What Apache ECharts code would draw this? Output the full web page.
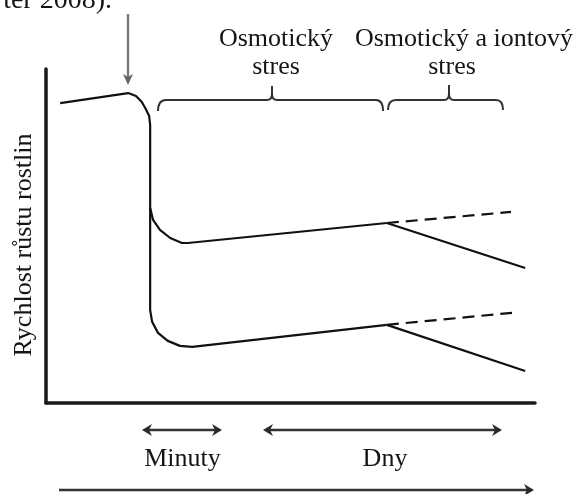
<!DOCTYPE html>
<html>
<head>
<meta charset="utf-8">
<script src="https://cdn.jsdelivr.net/npm/echarts@6/dist/echarts.min.js"></script>
<style>
html,body{margin:0;padding:0;background:#fff;}
#chart{width:577px;height:494px;}
</style>
</head>
<body>
<div id="chart"></div>
<script>
// ---- data (time, growth rate) ----
const beforeStress = [[2.9,89.8],[16.8,92.8],[18.4,91.9],[19.6,90.1],[20.4,88.0],[21.1,85.9],[21.3,83.2],[21.3,58.4]];
const upperOsmotic = [[21.3,58.4],[21.9,54.8],[23.3,51.8],[25.4,49.4],[27.8,47.9],[29.0,47.9],[69.7,53.9]];
const upperOsmoticOnly = [[69.7,53.9],[95.1,57.2]];
const upperIonic = [[69.7,53.9],[98.0,40.4]];
const lowerOsmotic = [[21.3,58.4],[21.3,27.8],[21.7,24.3],[22.9,21.0],[24.9,18.6],[27.4,17.1],[29.9,16.8],[69.7,23.4]];
const lowerOsmoticOnly = [[69.7,23.4],[95.3,27.0]];
const lowerIonic = [[69.7,23.4],[98.0,9.6]];

const yAxisTitle = 'Rychlost růstu rostlin';
const phaseLabels = ['Osmotický', 'stres', 'Osmotický a iontový', 'stres'];
const timeLabels = ['Minuty', 'Dny'];
const captionTail = 'ter 2008).';

const chart = echarts.init(document.getElementById('chart'), null, {renderer:'canvas'});
const FONT = '"Liberation Serif", "Times New Roman", serif';
const ink = '#111';

function lineSeries(data, dashed){
  return {
    type:'line', data:data, showSymbol:false, clip:false, silent:true,
    lineStyle:{color:ink, width:2.2, type: dashed ? [12,7] : 'solid', cap:'butt', join:'round'}
  };
}

function txt(text, x, y, size, align, extra){
  return Object.assign({
    type:'text', x:x, y:y, silent:true,
    style:{text:text, font: size+'px '+FONT, fill:'#151515', textAlign:align||'center', textVerticalAlign:'middle'}
  }, extra||{});
}
function seg(x1,y1,x2,y2,color,w){
  return {type:'line', silent:true, shape:{x1:x1,y1:y1,x2:x2,y2:y2}, style:{stroke:color||'#333', lineWidth:w||2}};
}
function curl(x1,y1,cx,cy,x2,y2){
  return {type:'bezierCurve', silent:true, shape:{x1:x1,y1:y1,x2:x2,y2:y2,cpx1:cx,cpy1:cy}, style:{stroke:'#333', lineWidth:2, fill:null}};
}
function brace(xl, xm, xr, yLine, yEnd, yTop){
  return [
    curl(xl,yEnd, xl,yLine, xl+8,yLine),
    seg(xl+8,yLine, xm-5,yLine),
    curl(xm-5,yLine, xm,yLine, xm,yLine-6),
    curl(xm+5,yLine, xm,yLine, xm,yLine-6),
    seg(xm,yLine-6, xm,yTop),
    seg(xm+5,yLine, xr-7,yLine),
    curl(xr-7,yLine, xr,yLine, xr,yEnd)
  ];
}
function head(tx,ty,dir,color){ // dir: 'l','r','d'
  let pts;
  if(dir==='r') pts=[[tx,ty],[tx-10,ty-6],[tx-7,ty],[tx-10,ty+6]];
  else if(dir==='l') pts=[[tx,ty],[tx+10,ty-6],[tx+7,ty],[tx+10,ty+6]];
  else pts=[[tx,ty],[tx-5,ty-11],[tx,ty-8],[tx+5,ty-11]];
  return {type:'polygon', silent:true, shape:{points:pts}, style:{fill:color||'#2a2a2a'}};
}

const graphics = [].concat(
  [
    txt(captionTail, 112, 1, 28, 'right'),
    seg(128,14,128,78,'#7a7a7a',2.4),
    head(128,85,'d','#666'),
    txt(phaseLabels[0], 276, 39, 26, 'center'),
    txt(phaseLabels[1], 276, 67, 26, 'center'),
    txt(phaseLabels[2], 464, 39, 26, 'center'),
    txt(phaseLabels[3], 452, 67, 26, 'center'),
    txt(yAxisTitle, 24, 245, 26, 'center', {rotation:Math.PI/2}),
    seg(147,430,217,430,'#333',2.3), head(142,430,'l'), head(222,430,'r'),
    seg(268,430,497,430,'#333',2.3), head(263,430,'l'), head(502,430,'r'),
    txt(timeLabels[0], 182.5, 459, 26, 'center'),
    txt(timeLabels[1], 385, 459, 26, 'center'),
    seg(59,490,528,490,'#333',2.4), head(534,490,'r')
  ],
  brace(158, 272, 383, 100, 111, 86),
  brace(388, 449, 503, 100, 110, 85)
);

chart.setOption({
  animation:false,
  backgroundColor:'#ffffff',
  grid:{left:46, top:69, right:42, bottom:91, containLabel:false},
  xAxis:{type:'value', min:0, max:100, axisLine:{show:true, onZero:false, lineStyle:{color:'#1a1a1a', width:3.5}}, axisTick:{show:false}, axisLabel:{show:false}, splitLine:{show:false}},
  yAxis:{type:'value', min:0, max:100, axisLine:{show:true, onZero:false, lineStyle:{color:'#1a1a1a', width:3.5}}, axisTick:{show:false}, axisLabel:{show:false}, splitLine:{show:false}},
  series:[
    lineSeries(beforeStress,false),
    lineSeries(upperOsmotic,false),
    lineSeries(upperOsmoticOnly,true),
    lineSeries(upperIonic,false),
    lineSeries(lowerOsmotic,false),
    lineSeries(lowerOsmoticOnly,true),
    lineSeries(lowerIonic,false)
  ],
  graphic:graphics
});
</script>
</body>
</html>
